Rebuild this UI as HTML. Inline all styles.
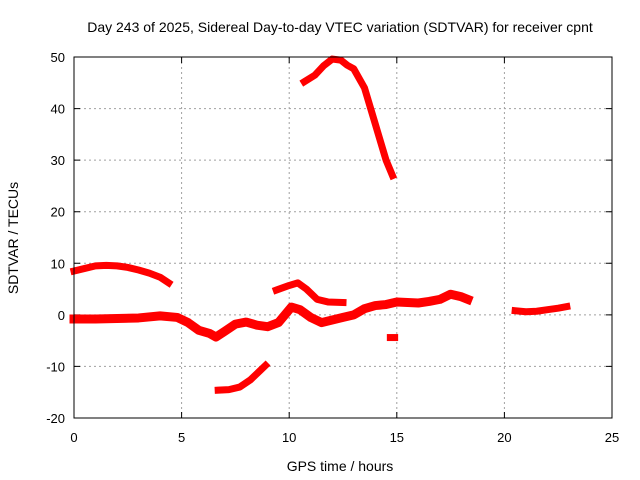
<!DOCTYPE html>
<html><head><meta charset="utf-8"><style>
body{margin:0;background:#fff}
svg{display:block;font-family:"Liberation Sans",sans-serif}
</style></head><body>
<svg id="chart" width="640" height="480">
<text x="340" y="32" font-size="14" text-anchor="middle">Day 243 of 2025, Sidereal Day-to-day VTEC variation (SDTVAR) for receiver cpnt</text>
<text x="340" y="471" font-size="14" text-anchor="middle">GPS time / hours</text>
<text transform="translate(18,238) rotate(-90)" font-size="14" text-anchor="middle">SDTVAR / TECUs</text>
<g id="grid"></g><g id="ticks"></g><g id="series"></g>
<rect x="74" y="57" width="538" height="361" fill="none" stroke="#000" stroke-width="1"/>
</svg>
<script>
const xTicks=[0,5,10,15,20,25];
const yTicks=[-20,-10,0,10,20,30,40,50];
const segA=[[0,8.5],[0.5,9.0],[1,9.5],[1.5,9.6],[2,9.5],[2.5,9.2],[3,8.7],[3.5,8.1],[4,7.3],[4.4,6.2]];
const segB=[[0,-0.8],[1,-0.8],[2,-0.7],[3,-0.6],[4,-0.2],[4.8,-0.5],[5.3,-1.5],[5.8,-3],[6.3,-3.6],[6.6,-4.3],[7,-3.2],[7.5,-1.8],[8,-1.4],[8.5,-2.0],[9,-2.3],[9.5,-1.5],[9.8,0.0],[10.1,1.5],[10.5,1.0],[11,-0.5],[11.5,-1.5],[12,-1.0],[12.5,-0.5],[13,0],[13.5,1.2],[14,1.8],[14.5,2.0],[15,2.5],[16,2.3],[16.5,2.6],[17,3.0],[17.5,4.0],[18,3.5],[18.3,3.0]];
const segC=[[9.4,4.8],[10,5.7],[10.4,6.2],[10.8,5.0],[11.3,3.0],[11.8,2.5],[12.5,2.4]];
const segD=[[6.7,-14.6],[7.2,-14.5],[7.7,-14.0],[8.2,-12.6],[8.6,-11.0],[8.9,-9.8]];
const segE=[[10.7,45.2],[11.2,46.5],[11.6,48.3],[12,49.6],[12.4,49.4],[12.7,48.4],[13,47.7],[13.5,44],[14,37],[14.5,30],[14.8,27]];
const segF=[[20.5,0.8],[21,0.6],[21.5,0.7],[22,1.0],[22.5,1.3],[22.9,1.6]];
const segG=[[14.7,-4.4],[14.9,-4.4]];
const NS="http://www.w3.org/2000/svg";
const X0=74,X1=612,Y0=418,Y1=57;
function xs(h){return X0+(h-0)/(25-0)*(X1-X0);}
function ys(v){return Y0-(v+20)/70*(Y0-Y1);}
const grid=document.getElementById('grid'),ticks=document.getElementById('ticks'),ser=document.getElementById('series');
function mk(t,a,p){const e=document.createElementNS(NS,t);for(const k in a)e.setAttribute(k,a[k]);p.appendChild(e);return e;}
xTicks.forEach(t=>{
 const x=xs(t);
 if(t>0&&t<25){const g=mk('line',{x1:x,x2:x,y1:Y1,y2:Y0,stroke:'#a0a0a0','stroke-dasharray':'2,3'},grid);
 
 }
 const tk=mk('path',{d:`M${x},${Y0}v-6M${x},${Y1}v6`,stroke:'#000'},ticks);
 
 
 const l=mk('text',{x:x,y:Y0+24,'font-size':13,'text-anchor':'middle'},ticks);l.textContent=t;
 
 
});
yTicks.forEach(t=>{
 const y=ys(t);
 if(t>-20&&t<50){const g=mk('line',{x1:X0,x2:X1,y1:y,y2:y,stroke:'#a0a0a0','stroke-dasharray':'2,3'},grid);
 
 }
 const tk=mk('path',{d:`M${X0},${y}h6M${X1},${y}h-6`,stroke:'#000'},ticks);
 
 
 const l=mk('text',{x:X0-9,y:y+5,'font-size':13,'text-anchor':'end'},ticks);l.textContent=t;
 
 
});
[['segment-early-high',segA,7],['segment-main',segB,9],['segment-mid-high',segC,7],['segment-low',segD,7],['segment-peak',segE,7],['segment-late',segF,7],['segment-outlier',segG,7]].forEach(([n,s,w])=>{
 const p=mk('polyline',{points:s.map(d=>xs(d[0])+','+ys(d[1])).join(' '),fill:'none',stroke:'#ff0000','stroke-width':w,'stroke-linejoin':'round','stroke-linecap':'square'},ser);
 
 
});
</script>
</body></html>
